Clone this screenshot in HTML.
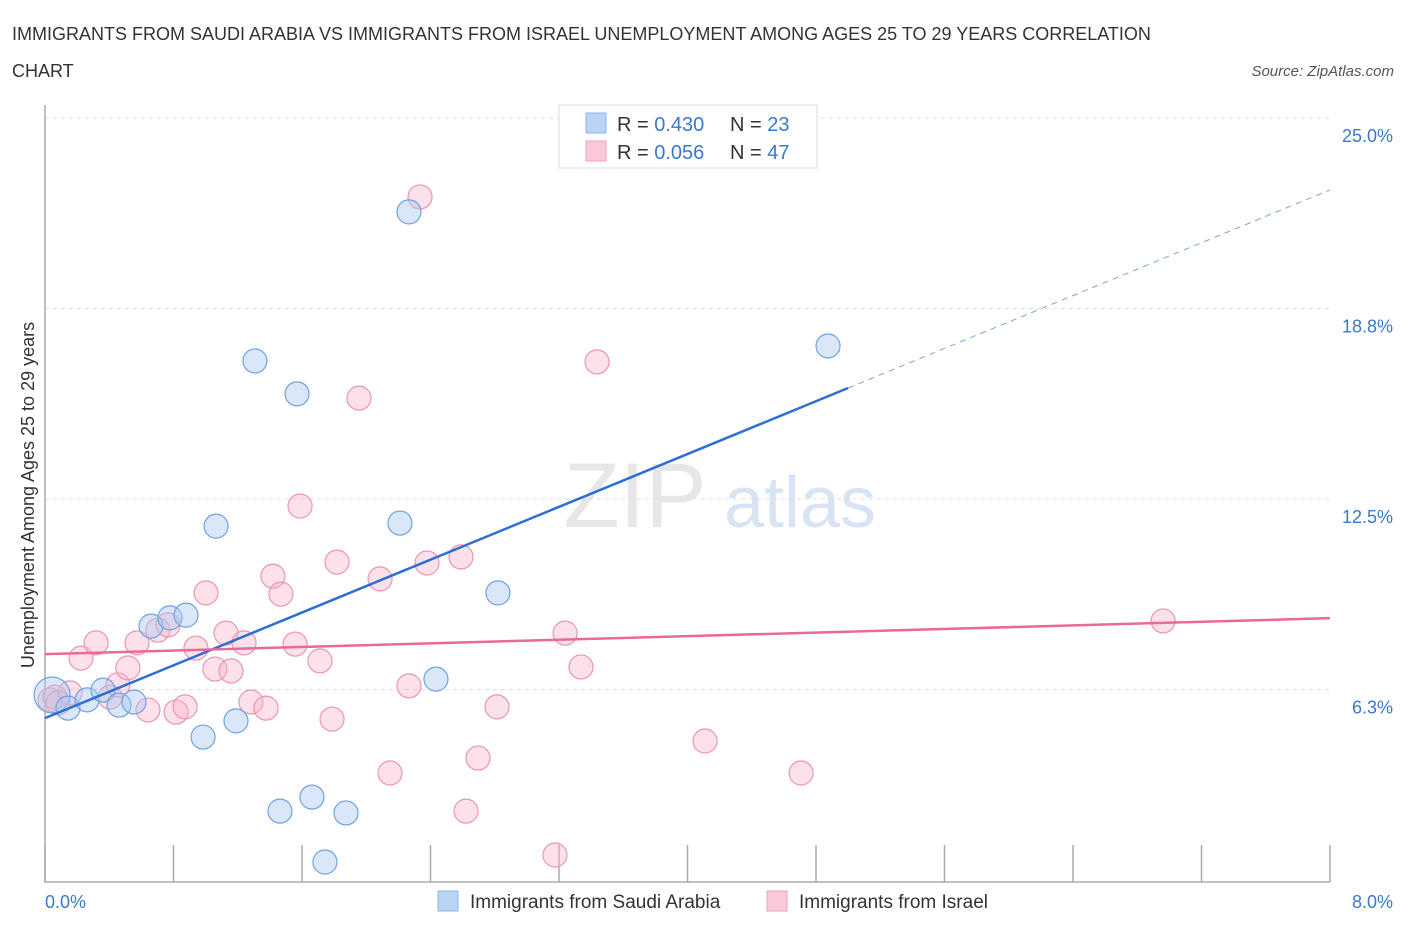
<!DOCTYPE html>
<html><head><meta charset="utf-8"><style>
body{margin:0;background:#fff;font-family:"Liberation Sans",sans-serif;}
svg text{font-family:"Liberation Sans",sans-serif;}
</style></head><body>
<svg width="1406" height="930" viewBox="0 0 1406 930" id="chart">
<text x="12" y="40" font-size="18" fill="#333">IMMIGRANTS FROM SAUDI ARABIA VS IMMIGRANTS FROM ISRAEL UNEMPLOYMENT AMONG AGES 25 TO 29 YEARS CORRELATION</text>
<text x="12" y="77" font-size="18" fill="#333">CHART</text>
<text x="1394" y="76" font-size="15" fill="#555" font-style="italic" text-anchor="end">Source: ZipAtlas.com</text>
<g>
<text x="635" y="527" font-size="92" fill="#ddd" font-family="Liberation Serif" text-anchor="middle" opacity="0.7">ZIP</text>
<text x="800" y="527" font-size="72" fill="#c8d9f0" text-anchor="middle" opacity="0.7">atlas</text>
</g>
<g id="grid"></g>
<g id="axes"></g>
<g id="marks"></g>
<text transform="translate(34,495) rotate(-90)" font-size="18" fill="#333" text-anchor="middle">Unemployment Among Ages 25 to 29 years</text>
<g>
<rect x="559" y="105" width="258" height="63" fill="#fff" stroke="#ddd"/>
<rect x="586" y="113" width="20" height="20" fill="#b9d4f5" stroke="#8ab4ea"/>
<rect x="586" y="141" width="20" height="20" fill="#fac8d7" stroke="#eea3bb"/>
<text x="617" y="131" font-size="20" fill="#333">R = <tspan fill="#3a78d0">0.430</tspan></text>
<text x="730" y="131" font-size="20" fill="#333">N = <tspan fill="#3a78d0">23</tspan></text>
<text x="617" y="159" font-size="20" fill="#333">R = <tspan fill="#3a78d0">0.056</tspan></text>
<text x="730" y="159" font-size="20" fill="#333">N = <tspan fill="#3a78d0">47</tspan></text>
</g>
<g>
<rect x="438" y="891" width="20" height="20" fill="#b9d4f5" stroke="#8ab4ea"/>
<text x="470" y="908" font-size="19" fill="#333">Immigrants from Saudi Arabia</text>
<rect x="767" y="891" width="20" height="20" fill="#fac8d7" stroke="#eea3bb"/>
<text x="799" y="908" font-size="19" fill="#333">Immigrants from Israel</text>
</g>
</svg>
<script>
const yTicks=[6.25,12.5,18.75,25];
const yTickLabels=["6.3%","12.5%","18.8%","25.0%"];
const xTicks=[0,0.8,1.6,2.4,3.2,4.0,4.8,5.6,6.4,7.2,8.0];
const xTickLabels=["0.0%","8.0%"];
const saudiX=[0.044,0.143,0.262,0.361,0.461,0.554,0.660,0.778,0.878,0.984,1.065,1.189,1.307,1.463,1.569,1.662,1.743,1.874,2.210,2.266,2.434,2.820,4.875];
const saudiY=[6.07,5.64,5.91,6.23,5.74,5.84,8.33,8.60,8.69,4.69,11.61,5.22,17.03,2.26,15.95,2.72,0.59,2.20,11.71,21.92,6.59,9.42,17.52];
const israelX=[0.031,0.062,0.081,0.156,0.224,0.318,0.405,0.454,0.516,0.573,0.641,0.703,0.766,0.816,0.872,0.940,1.002,1.058,1.127,1.158,1.239,1.282,1.376,1.419,1.469,1.557,1.588,1.712,1.787,1.818,1.955,2.086,2.148,2.266,2.335,2.378,2.590,2.621,2.696,2.814,3.175,3.238,3.337,3.437,4.109,4.707,6.961];
const israelY=[5.91,6.00,5.81,6.14,7.28,7.78,6.00,6.40,6.96,7.78,5.58,8.20,8.37,5.51,5.68,7.61,9.42,6.92,8.10,6.86,7.78,5.84,5.64,9.97,9.38,7.74,12.27,7.19,5.28,10.43,15.81,9.88,3.51,6.37,22.41,10.40,10.60,2.26,4.00,5.68,0.82,8.10,6.99,17.00,4.56,3.51,8.50];
const saudiTrend=[5.31,22.64];  // y at x=0 and x=8
const saudiSolidEnd=5.0;
const israelTrend=[7.41,8.59];

const X0=45,X1=1330,Y0=880,Y1=118;
const xs=v=>X0+(v/8)*(X1-X0);
const ys=v=>Y0-(v/25)*(Y0-Y1);
const NS="http://www.w3.org/2000/svg";
function mk(tag,attrs,parent){const e=document.createElementNS(NS,tag);for(const k in attrs)e.setAttribute(k,attrs[k]);parent.appendChild(e);return e;}
const grid=document.getElementById('grid'),axes=document.getElementById('axes'),marks=document.getElementById('marks');
yTicks.forEach((t,i)=>{
  const g=mk('line',{x1:X0,x2:X1,y1:ys(t),y2:ys(t),stroke:'#ddd','stroke-dasharray':'4,4'},grid);
  
  
  const l=mk('text',{x:1393,y:ys(t)+24,'font-size':18,fill:'#3a78d0','text-anchor':'end'},axes);
  l.textContent=yTickLabels[i];
  
  
});
const ax=mk('path',{d:`M${X0},105 V${Y0+2} H${X1}`,stroke:'#aaa',fill:'none','stroke-width':1.5},axes);


xTicks.forEach(t=>{
  const tk=mk('line',{x1:xs(t),x2:xs(t),y1:Y0+2,y2:Y0-35,stroke:'#aaa','stroke-width':1.5},axes);
  
  
});
[[0,'start',45],[8,'end',1393]].forEach((a,i)=>{
  const l=mk('text',{x:a[2],y:908,'font-size':18,fill:'#3a78d0','text-anchor':a[1]},axes);
  l.textContent=xTickLabels[i];
  
  
});
function dots(X,Y,fill,stroke,name){
  X.forEach((x,i)=>{
    const r=(i===0&&name==='saudi-point')?18:12;
    const c=mk('circle',{cx:xs(x),cy:ys(Y[i]),r:r,fill:fill,stroke:stroke,'stroke-width':1.2},marks);
    
    
  });
}
dots(israelX,israelY,'rgba(248,180,202,0.4)','#eb95b2','israel-point');
dots(saudiX,saudiY,'rgba(170,202,242,0.45)','#6fa2e2','saudi-point');
const sAt=x=>saudiTrend[0]+(saudiTrend[1]-saudiTrend[0])*x/8;
const t1=mk('line',{x1:xs(0),y1:ys(sAt(0)),x2:xs(saudiSolidEnd),y2:ys(sAt(saudiSolidEnd)),stroke:'#2b6fd6','stroke-width':2.5},marks);


const t2=mk('line',{x1:xs(saudiSolidEnd),y1:ys(sAt(saudiSolidEnd)),x2:xs(8),y2:ys(sAt(8)),stroke:'#7aa5e0','stroke-width':1,'stroke-dasharray':'6,5'},marks);


const t3=mk('line',{x1:xs(0),y1:ys(israelTrend[0]),x2:xs(8),y2:ys(israelTrend[1]),stroke:'#e8699a','stroke-width':2.5},marks);


</script>
</body></html>
